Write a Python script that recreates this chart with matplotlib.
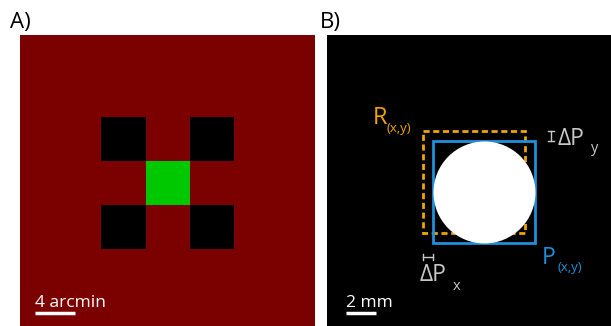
import matplotlib.pyplot as plt
from matplotlib.patches import Rectangle, Circle

plt.rcParams["font.family"] = ["Open Sans", "DejaVu Sans"]

# panel A: stimulus layout, in arcmin
panel_a_size = 29.5
cell = 4.4
cell_cols = [-1, 1, 0, -1, 1]
cell_rows = [-1, -1, 0, 1, 1]
cell_colors = ["black", "black", "#00c800", "black", "black"]
bar_a = 4  # arcmin

# panel B: spot geometry, in mm
panel_b_size = 19.67
rect_side = 6.8
r_center = (9.83, 9.83)
dp = 0.67  # shift between R and P
spot_radius = 3.4
bar_b = 2  # mm

W, H = 611, 326
fig = plt.figure(figsize=(W / 100, H / 100), dpi=100)

# ---------- panel A ----------
axA = fig.add_axes([20 / W, (H - 330) / H, 295 / W, 295 / H])
axA.set_xlim(0, panel_a_size)
axA.set_ylim(panel_a_size, 0)
axA.set_facecolor("#7b0000")
axA.set_xticks([])
axA.set_yticks([])
for s in axA.spines.values():
    s.set_visible(False)
c0 = panel_a_size / 2
for cx, cy, col in zip(cell_cols, cell_rows, cell_colors):
    axA.add_patch(Rectangle((c0 + (cx - 0.5) * cell, c0 + (cy - 0.5) * cell),
                            cell, cell, facecolor=col, edgecolor="none"))
axA.plot([1.5, 1.5 + bar_a], [27.8, 27.8], color="white", lw=2.5,
         solid_capstyle="butt")
axA.text(1.5, 27.2, "%d arcmin" % bar_a, color="white", fontsize=12.5,
         va="baseline", ha="left")

# ---------- panel B ----------
axB = fig.add_axes([327 / W, (H - 330) / H, 295 / W, 295 / H])
axB.set_xlim(0, panel_b_size)
axB.set_ylim(panel_b_size, 0)
axB.set_facecolor("black")
axB.set_xticks([])
axB.set_yticks([])
for s in axB.spines.values():
    s.set_visible(False)

orange = "#f0a400"
blue = "#1e90dc"
grey = "#c8c8c8"
h = rect_side / 2
rx, ry = r_center
px, py = rx + dp, ry + dp
axB.add_patch(Rectangle((rx - h, ry - h), rect_side, rect_side, fill=False,
                        edgecolor=orange, lw=2, linestyle=(0, (2.2, 1.3))))
axB.add_patch(Rectangle((px - h, py - h), rect_side, rect_side, fill=False,
                        edgecolor=blue, lw=2))
axB.add_patch(Circle((px, py), spot_radius, facecolor="white", edgecolor="none"))

# delta markers
axB.plot([14.95, 14.95], [ry - h, py - h], color=grey, lw=1)
axB.plot([14.75, 15.15], [ry - h, ry - h], color=grey, lw=1)
axB.plot([14.75, 15.15], [py - h, py - h], color=grey, lw=1)
axB.plot([rx - h, px - h], [14.8, 14.8], color=grey, lw=1)
axB.plot([rx - h, rx - h], [14.6, 15.0], color=grey, lw=1)
axB.plot([px - h, px - h], [14.6, 15.0], color=grey, lw=1)

axB.text(3.05, 5.93, "R", color=orange, fontsize=17, va="baseline")
axB.text(4.0, 6.5, "(x,y)", color=orange, fontsize=9.5, va="baseline")
axB.text(15.35, 7.33, "\u0394P", color=grey, fontsize=16.5, va="baseline")
axB.text(17.6, 7.8, "y", color=grey, fontsize=10.5, va="baseline")
axB.text(6.15, 16.4, "\u0394P", color=grey, fontsize=16.5, va="baseline")
axB.text(8.35, 17.0, "x", color=grey, fontsize=10.5, va="baseline")
axB.text(14.35, 15.27, "P", color=blue, fontsize=16.5, va="baseline")
axB.text(15.4, 15.75, "(x,y)", color=blue, fontsize=9.5, va="baseline")

axB.plot([1.27, 1.27 + bar_b], [18.53, 18.53], color="white", lw=2.5,
         solid_capstyle="butt")
axB.text(1.27, 18.13, "%d mm" % bar_b, color="white", fontsize=12.5,
         va="baseline", ha="left")

fig.text(10 / W, 1 - 28 / H, "A)", fontsize=16, va="baseline")
fig.text(320 / W, 1 - 28 / H, "B)", fontsize=16, va="baseline")

fig.savefig("out.png", dpi=100)
